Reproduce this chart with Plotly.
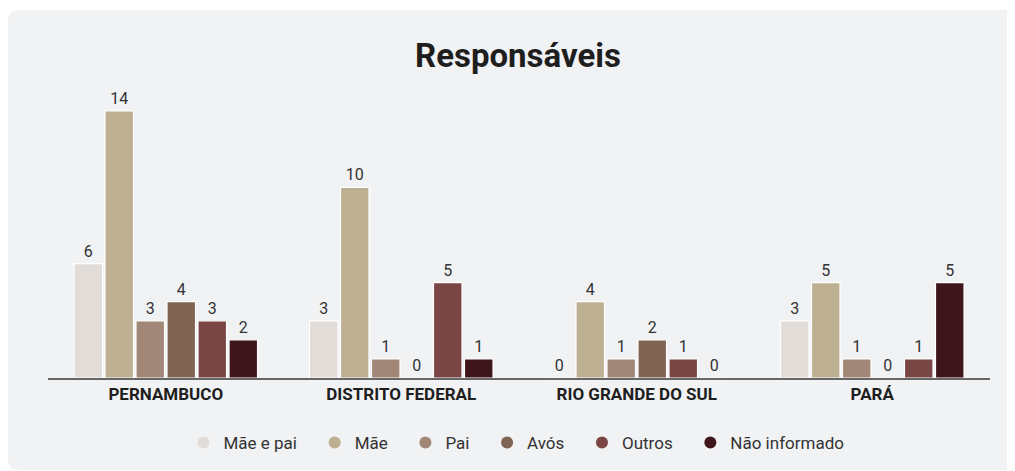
import plotly.graph_objects as go

categories = ["PERNAMBUCO", "DISTRITO FEDERAL", "RIO GRANDE DO SUL", "PARÁ"]
series_names = ["Mãe e pai", "Mãe", "Pai", "Avós", "Outros", "Não informado"]
mae_e_pai = [6, 3, 0, 3]
mae = [14, 10, 4, 5]
pai = [3, 1, 1, 1]
avos = [4, 0, 2, 0]
outros = [3, 5, 1, 1]
nao_informado = [2, 1, 0, 5]
series_values = [mae_e_pai, mae, pai, avos, outros, nao_informado]
colors = ["#e2dcd9", "#bdb092", "#a08777", "#7f6453", "#7a4545", "#3d151b"]

# page body has an 8px margin, so figure coords = screen coords - 8
W, H = 1015, 463
L, R, T, B = 40, 33, 87, 93
pw, ph = W - L - R, H - T - B

def px(x):
    return (x - L) / pw

def py(y):
    return (H - B - y) / ph

fig = go.Figure()
for name, vals, col in zip(series_names, series_values, colors):
    fig.add_trace(go.Bar(
        x=categories, y=vals, name=name,
        marker=dict(color=col, line=dict(color="white", width=1.2)),
        text=[str(v) for v in vals], textposition="outside",
        textfont=dict(family="Roboto", size=16, color="#333333"),
        cliponaxis=False, showlegend=False,
    ))
pad = "\u00a0" * 3
for name, col in zip(series_names, colors):
    fig.add_trace(go.Scatter(
        x=[None], y=[None], mode="markers", name=name + pad,
        marker=dict(symbol="circle", size=15, color=col),
        showlegend=True,
    ))

# rounded panel background
x0, x1 = px(0), px(1040)
y0, y1 = py(462), py(2)
rx, ry = 12 / pw, 12 / ph
path = (f"M {x0+rx},{y1} L {x1},{y1} L {x1},{y0} L {x0+rx},{y0} "
        f"Q {x0},{y0} {x0},{y0+ry} L {x0},{y1-ry} Q {x0},{y1} {x0+rx},{y1} Z")
fig.add_shape(type="path", path=path, xref="paper", yref="paper",
              fillcolor="#f1f2f4", line=dict(width=0), layer="below")

fig.update_layout(
    width=W, height=H,
    margin=dict(l=L, r=R, t=T, b=B, autoexpand=False),
    paper_bgcolor="white", plot_bgcolor="rgba(0,0,0,0)",
    title=dict(text="<b>Responsáveis</b>", x=510 / W, xanchor="center",
               y=1 - 47 / H, yanchor="middle",
               font=dict(family="Roboto", size=33, color="#1e1e1e")),
    barmode="group", bargap=0.21, bargroupgap=0.08,
    legend=dict(orientation="h", x=px(515), xanchor="center",
                y=py(435), yanchor="middle",
                font=dict(family="Roboto", size=17, color="#333333"),
                bgcolor="rgba(0,0,0,0)", itemsizing="constant"),
    font=dict(family="Roboto"),
)
fig.update_xaxes(showline=True, linecolor="#666666", linewidth=2, ticks="",
                 tickangle=0,
                 tickfont=dict(family="Roboto", size=17, color="#1e1e1e", weight="bold"),
                 showgrid=False, zeroline=False)
fig.update_yaxes(range=[0, ph / 19.07], visible=False, showgrid=False, zeroline=False)

fig.write_html("out.html")
